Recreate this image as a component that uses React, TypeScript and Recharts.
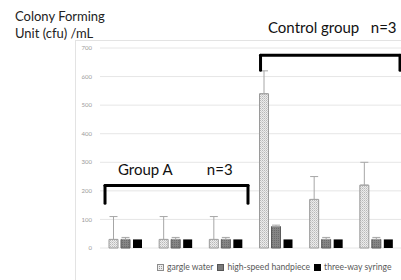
import {
  BarChart,
  Bar,
  XAxis,
  YAxis,
  CartesianGrid,
  ErrorBar,
  ReferenceLine,
} from "recharts";

const categories = ["A-1", "A-2", "A-3", "C-1", "C-2", "C-3"];
const gargleWater = [30, 30, 30, 540, 170, 220];
const gargleErr = [80, 80, 80, 80, 80, 80];
const highSpeed = [30, 30, 30, 75, 30, 30];
const highSpeedErr = [7, 7, 7, 5, 7, 7];
const threeWay = [30, 30, 30, 30, 30, 30];
const yTicks = [0, 100, 200, 300, 400, 500, 600, 700];

// brackets on a hidden 0..6 numeric axis, y in cfu
const groupABracket = { x1: 0.1, x2: 2.95, top: 219, bottom: 157 };
const controlBracket = { x1: 3.2, x2: 5.98, top: 675, bottom: 622 };

const data = categories.map((name, i) => ({
  name,
  pos: i + 0.5,
  gargle: gargleWater[i],
  gargleErr: [0, gargleErr[i]],
  highSpeed: highSpeed[i],
  highSpeedErr: [0, highSpeedErr[i]],
  threeWay: threeWay[i],
}));

const FONT = "Lato, 'Open Sans', sans-serif";

function Bracket({ b }: { b: { x1: number; x2: number; top: number; bottom: number } }) {
  const common = {
    xAxisId: "num",
    stroke: "#000",
    strokeWidth: 3,
    strokeLinecap: "round" as const,
    ifOverflow: "visible" as const,
  };
  return (
    <>
      <ReferenceLine {...common} segment={[{ x: b.x1, y: b.bottom }, { x: b.x1, y: b.top }]} />
      <ReferenceLine {...common} segment={[{ x: b.x1, y: b.top }, { x: b.x2, y: b.top }]} />
      <ReferenceLine {...common} segment={[{ x: b.x2, y: b.top }, { x: b.x2, y: b.bottom }]} />
    </>
  );
}

const legendItems = [
  { label: "gargle water", fill: "url(#gargleLeg)", stroke: "#8c8c8c" },
  { label: "high-speed handpiece", fill: "#7a7a7a", stroke: "#555" },
  { label: "three-way syringe", fill: "#000", stroke: "#000" },
];

export default function App() {
  return (
    <div
      style={{
        position: "absolute",
        left: 0,
        top: 0,
        width: 401,
        height: 280,
        overflow: "hidden",
        background: "#fff",
        fontFamily: FONT,
      }}
    >
      <div
        style={{
          position: "absolute",
          left: 75,
          top: 40,
          width: 340,
          height: 260,
          border: "1px solid #e3e3e3",
        }}
      />
      <div
        style={{
          position: "absolute",
          left: 15,
          top: 8,
          fontSize: 13,
          lineHeight: "17px",
          color: "#222",
        }}
      >
        Colony Forming
        <br />
        Unit (cfu) /mL
      </div>
      <div
        style={{
          position: "absolute",
          left: 268,
          top: 18,
          fontSize: 15,
          color: "#111",
          whiteSpace: "pre",
        }}
      >
        {"Control group   n=3"}
      </div>
      <div
        style={{
          position: "absolute",
          left: 118,
          top: 160,
          fontSize: 15,
          color: "#111",
          whiteSpace: "pre",
        }}
      >
        {"Group A         n=3"}
      </div>
      <div style={{ position: "absolute", left: 0, top: 0 }}>
        <BarChart
          width={401}
          height={280}
          data={data}
          barSize={9}
          barGap={3}
          margin={{ top: 48, right: 0, bottom: 32, left: 75 }}
        >
          <defs>
            <pattern id="gargleFill" width="2" height="2" patternUnits="userSpaceOnUse">
              <rect width="2" height="2" fill="#ececec" />
              <rect width="1" height="1" fill="#b8b8b8" />
              <rect x="1" y="1" width="1" height="1" fill="#cfcfcf" />
            </pattern>
            <pattern id="speedFill" width="2" height="2" patternUnits="userSpaceOnUse">
              <rect width="2" height="2" fill="#858585" />
              <rect width="1" height="1" fill="#6c6c6c" />
            </pattern>
          </defs>
          <CartesianGrid vertical={false} stroke="#e6e6e6" />
          <XAxis xAxisId="cat" dataKey="name" hide />
          <XAxis
            xAxisId="num"
            dataKey="pos"
            type="number"
            domain={[0, 6]}
            allowDataOverflow
            hide
          />
          <YAxis
            domain={[0, 700]}
            ticks={yTicks}
            width={25}
            axisLine={false}
            tickLine={false}
            tick={{ fontSize: 6, fill: "#9a9a9a", fontFamily: FONT }}
          />
          <Bar
            xAxisId="cat"
            dataKey="gargle"
            fill="url(#gargleFill)"
            stroke="#9a9a9a"
            strokeWidth={1}
            isAnimationActive={false}
          >
            <ErrorBar dataKey="gargleErr" width={4} stroke="#a6a6a6" strokeWidth={1} />
          </Bar>
          <Bar
            xAxisId="cat"
            dataKey="highSpeed"
            fill="url(#speedFill)"
            stroke="#5a5a5a"
            strokeWidth={1}
            isAnimationActive={false}
          >
            <ErrorBar dataKey="highSpeedErr" width={4} stroke="#a6a6a6" strokeWidth={1} />
          </Bar>
          <Bar xAxisId="cat" dataKey="threeWay" fill="#000" isAnimationActive={false} />
          <Bracket b={groupABracket} />
          <Bracket b={controlBracket} />
        </BarChart>
      </div>
      <div
        style={{
          position: "absolute",
          left: 157,
          top: 262,
          display: "flex",
          alignItems: "center",
          whiteSpace: "nowrap",
          fontSize: 8.6,
          color: "#595959",
        }}
      >
        <svg width={0} height={0} style={{ position: "absolute" }}>
          <defs>
            <pattern id="gargleLeg" width="2" height="2" patternUnits="userSpaceOnUse">
              <rect width="2" height="2" fill="#ececec" />
              <rect width="1" height="1" fill="#999" />
            </pattern>
          </defs>
        </svg>
        {legendItems.map((it) => (
          <span key={it.label} style={{ display: "flex", alignItems: "center", marginRight: 4 }}>
            <svg width={7} height={7} style={{ marginRight: 3 }}>
              <rect x={0.5} y={0.5} width={6} height={6} fill={it.fill} stroke={it.stroke} />
            </svg>
            {it.label}
          </span>
        ))}
      </div>
    </div>
  );
}
